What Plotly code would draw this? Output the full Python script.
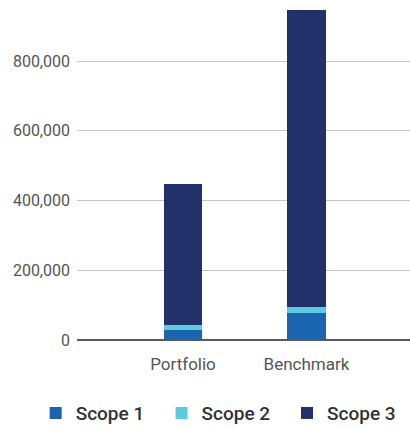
import plotly.graph_objects as go

categories = ["Portfolio", "Benchmark"]
scope1 = [30000, 77000]
scope2 = [12000, 17000]
scope3 = [405000, 852000]
tick_values = [0, 200000, 400000, 600000, 800000]
tick_labels = ["0", "200,000", "400,000", "600,000", "800,000"]

series = [
    ("Scope 1", scope1, "#1b64b0", "legend", 0.087),
    ("Scope 2", scope2, "#5ccbe0", "legend2", 0.394),
    ("Scope 3", scope3, "#23316b", "legend3", 0.700),
]

fig = go.Figure()
legend_layouts = {}
for name, vals, color, leg, lx in series:
    fig.add_trace(go.Bar(
        x=categories, y=vals, name=name,
        marker=dict(color=color, line=dict(width=0)),
        width=0.31, legend=leg,
    ))
    # one legend per series so the entries sit at fixed positions
    legend_layouts[leg] = dict(
        orientation="h",
        xref="container", x=lx, xanchor="left",
        y=-0.215, yanchor="middle",
        font=dict(size=19, color="#333", family="Roboto, Arial, sans-serif", weight=500),
        itemclick=False,
    )

fig.update_layout(
    barmode="stack",
    width=410, height=428,
    margin=dict(l=77, r=0, t=0, b=88, autoexpand=False),
    paper_bgcolor="white", plot_bgcolor="white",
    font=dict(family="Roboto, Arial, sans-serif", color="#555"),
    xaxis=dict(
        range=[-0.858, 1.838],
        showgrid=False, showline=False, zeroline=False,
        ticks="", tickfont=dict(size=17, color="#555"),
        ticklabelstandoff=12, tickangle=0, automargin=False,
    ),
    yaxis=dict(
        range=[0, 975000],
        tickvals=tick_values, ticktext=tick_labels,
        showgrid=True, gridcolor="#c4c4c4", gridwidth=1,
        zeroline=True, zerolinecolor="#5a5a5a", zerolinewidth=2,
        showline=False, ticks="", automargin=False,
        tickfont=dict(size=16, color="#555"),
        ticklabelstandoff=6,
    ),
    showlegend=True,
    **legend_layouts,
)

fig.write_html("out.html")
